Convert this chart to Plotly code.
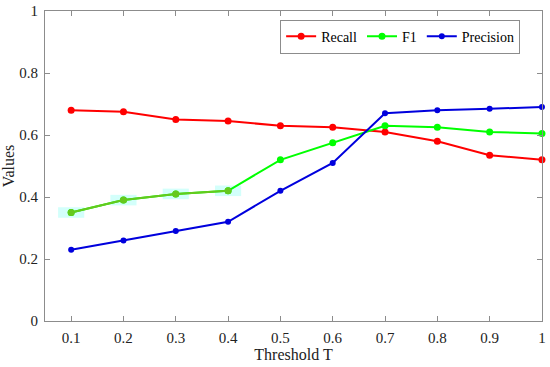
import plotly.graph_objects as go

thresholds = [0.1, 0.2, 0.3, 0.4, 0.5, 0.6, 0.7, 0.8, 0.9, 1.0]
recall = [0.68, 0.675, 0.65, 0.645, 0.63, 0.625, 0.61, 0.58, 0.535, 0.52]
f1 = [0.35, 0.39, 0.41, 0.42, 0.52, 0.575, 0.63, 0.625, 0.61, 0.605]
precision = [0.23, 0.26, 0.29, 0.32, 0.42, 0.51, 0.67, 0.68, 0.685, 0.69]
x_ticks = [0.1, 0.2, 0.3, 0.4, 0.5, 0.6, 0.7, 0.8, 0.9, 1.0]
x_tick_labels = ["0.1", "0.2", "0.3", "0.4", "0.5", "0.6", "0.7", "0.8", "0.9", "1"]
y_ticks = [0, 0.2, 0.4, 0.6, 0.8, 1.0]
y_tick_labels = ["0", "0.2", "0.4", "0.6", "0.8", "1"]

font_family = "Times New Roman, Liberation Serif, serif"

fig = go.Figure()

# light cyan highlight behind the first F1 points (as in the reference)
shapes = []
for xv, yv in zip(thresholds[:4], f1[:4]):
    shapes.append(dict(type="rect", xref="x", yref="y",
                       x0=xv - 0.025, x1=xv + 0.025, y0=yv - 0.017, y1=yv + 0.017,
                       fillcolor="rgba(200,255,250,0.8)", line=dict(width=0), layer="below"))

fig.add_trace(go.Scatter(x=thresholds, y=recall, name="Recall", mode="lines+markers",
                         line=dict(color="#ff0000", width=2), marker=dict(size=7, color="#ff0000"),
                         cliponaxis=False))
fig.add_trace(go.Scatter(x=thresholds, y=f1, name="F1", mode="lines+markers",
                         line=dict(color="#00ff00", width=2), marker=dict(size=7, color="#00ff00"),
                         cliponaxis=False))
fig.add_trace(go.Scatter(x=thresholds[:4], y=f1[:4], showlegend=False, mode="lines+markers",
                         line=dict(color="#66c81e", width=2), marker=dict(size=7, color="#66c81e"),
                         cliponaxis=False))
fig.add_trace(go.Scatter(x=thresholds, y=precision, name="Precision", mode="lines+markers",
                         line=dict(color="#0000dd", width=2), marker=dict(size=6, color="#0000dd"),
                         cliponaxis=False))

axis_common = dict(showline=True, linecolor="#8c8c8c", linewidth=1, mirror="ticks",
                   ticks="inside", ticklen=5, tickcolor="#8c8c8c", showgrid=False,
                   zeroline=False, automargin=False,
                   tickfont=dict(family=font_family, size=15, color="#222"))

fig.update_layout(
    width=550, height=367,
    margin=dict(l=45, r=8, t=11, b=46),
    paper_bgcolor="white", plot_bgcolor="white",
    font=dict(family=font_family, size=15, color="#222"),
    shapes=shapes,
    xaxis=dict(range=[0.05, 1.0001], tickvals=x_ticks, ticktext=x_tick_labels,
               title=dict(text="Threshold T", font=dict(family=font_family, size=16), standoff=0),
               ticklabelstandoff=3, **axis_common),
    yaxis=dict(range=[0, 1.0001], tickvals=y_ticks, ticktext=y_tick_labels,
               title=dict(text="Values", font=dict(family=font_family, size=16), standoff=9),
               ticklabelstandoff=3, **axis_common),
    legend=dict(orientation="h", x=0.956, xanchor="right", y=0.972, yanchor="top",
                bgcolor="white", bordercolor="#8c8c8c", borderwidth=1,
                font=dict(family=font_family, size=14, color="#000"),
                itemwidth=30, tracegroupgap=0),
    showlegend=True,
)

fig.write_html("out.html", config={"displayModeBar": False},
               post_script="document.body.style.margin='0';")
